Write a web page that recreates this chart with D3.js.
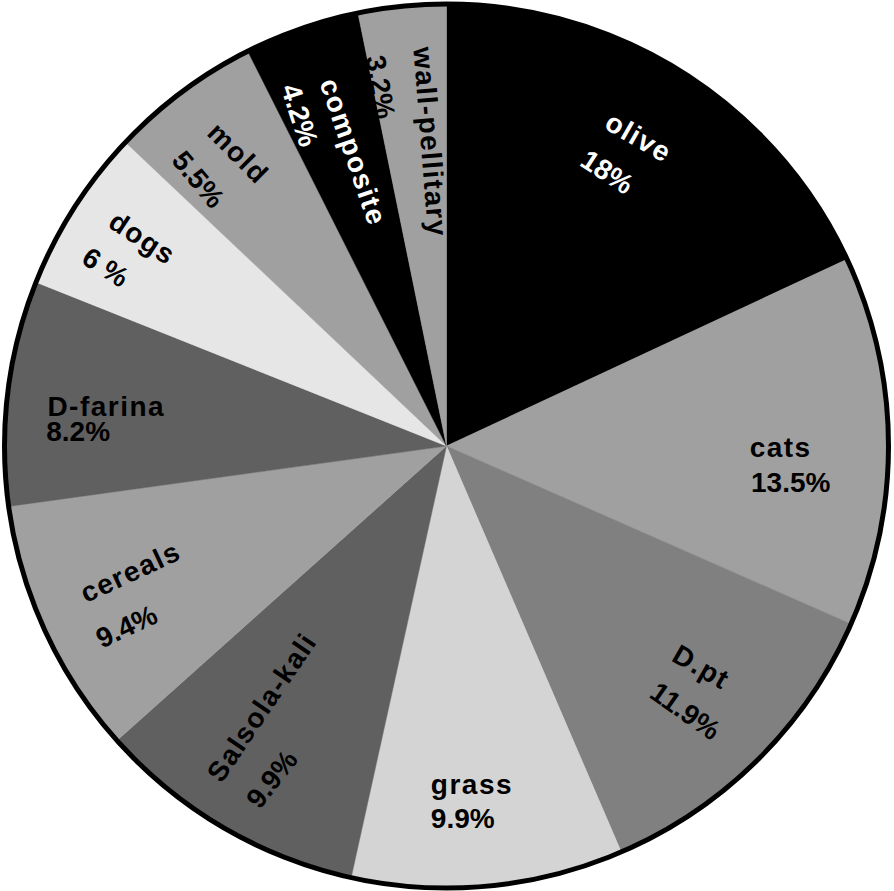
<!DOCTYPE html>
<html>
<head>
<meta charset="utf-8">
<script src="https://cdn.jsdelivr.net/npm/d3@7"></script>
<style>
  html, body { margin: 0; padding: 0; background: #fff; }
  svg { display: block; }
  text { font-family: "Liberation Sans", Arial, sans-serif; font-weight: bold; }
</style>
</head>
<body>
<svg id="chart" width="894" height="891"></svg>
<script>
// ---- data ----
const categories = ["olive", "cats", "D.pt", "grass", "Salsola-kali", "cereals",
                    "D-farina", "dogs", "mold", "composite", "wall-pellitary"];
const values = [18, 13.5, 11.9, 9.9, 9.9, 9.4, 8.2, 6, 5.5, 4.2, 3.2];
const percentLabels = ["18%", "13.5%", "11.9%", "9.9%", "9.9%", "9.4%",
                       "8.2%", "6 %", "5.5%", "4.2%", "3.2%"];

// ---- style / layout ----
const fills = ["#000000", "#a0a0a0", "#808080", "#d4d4d4", "#606060", "#a0a0a0",
               "#606060", "#e6e6e6", "#a0a0a0", "#000000", "#a0a0a0"];
const textFills = ["#fff", "#000", "#000", "#000", "#000", "#000",
                   "#000", "#000", "#000", "#fff", "#000"];
// label placement: [angle (deg, clockwise from top), radius fraction, text rotation]
const namePos = [[31.9, 0.823, 30], [90.2, 0.756, 0], [130.9, 0.763, 30], [175.7, 0.767, 0],
                 [215.3, 0.724, -56], [248.3, 0.770, -25], [276.7, 0.775, 0], [304.4, 0.833, 33],
                 [324.6, 0.813, 45], [342.45, 0.698, 71], [357.0, 0.689, 85.5]];
const pctPos  = [[30.4, 0.719, 33], [96.0, 0.783, 0], [137.95, 0.807, 35], [177.5, 0.842, 0],
                 [207.7, 0.851, -52], [240.6, 0.831, -25], [272.3, 0.834, 0], [297.7, 0.871, 33],
                 [317.1, 0.824, 50], [336.1, 0.819, 72], [349.6, 0.826, 80]];

const cx = 446.5, cy = 446, R = 442;
const svg = d3.select("#chart");
const g = svg.append("g").attr("transform", `translate(${cx},${cy})`);

const pie = d3.pie().sort(null).value(d => d)
  .startAngle(0).endAngle(2 * Math.PI);
const arc = d3.arc().innerRadius(0).outerRadius(R);
const arcs = pie(values);

g.selectAll("path.slice").data(arcs).enter().append("path")
  .attr("class", "slice")
  .attr("d", arc)
  .attr("fill", (d, i) => fills[i])
  .attr("stroke", (d, i) => fills[i])
  .attr("stroke-width", 0.5);

function place(p) {
  const a = p[0] * Math.PI / 180, r = p[1] * R;
  return `translate(${r * Math.sin(a)},${-r * Math.cos(a)}) rotate(${p[2]})`;
}

const labels = g.selectAll("g.lab").data(arcs).enter().append("g").attr("class", "lab");
labels.append("text")
  .attr("transform", (d, i) => place(namePos[i]))
  .attr("text-anchor", "middle")
  .attr("dy", "0.35em")
  .attr("font-size", 28)
  .attr("letter-spacing", 1.5)
  .attr("fill", (d, i) => textFills[i])
  .text((d, i) => categories[i]);
labels.append("text")
  .attr("transform", (d, i) => place(pctPos[i]))
  .attr("text-anchor", "middle")
  .attr("dy", "0.35em")
  .attr("font-size", 28)
  .attr("fill", (d, i) => textFills[i])
  .text((d, i) => percentLabels[i]);

// redraw slice for wall/composite ordering: composite slice drawn over 3.2% label (black on black merges anyway)
g.append("circle")
  .attr("r", R)
  .attr("fill", "none")
  .attr("stroke", "#000")
  .attr("stroke-width", 5);
</script>
</body>
</html>
